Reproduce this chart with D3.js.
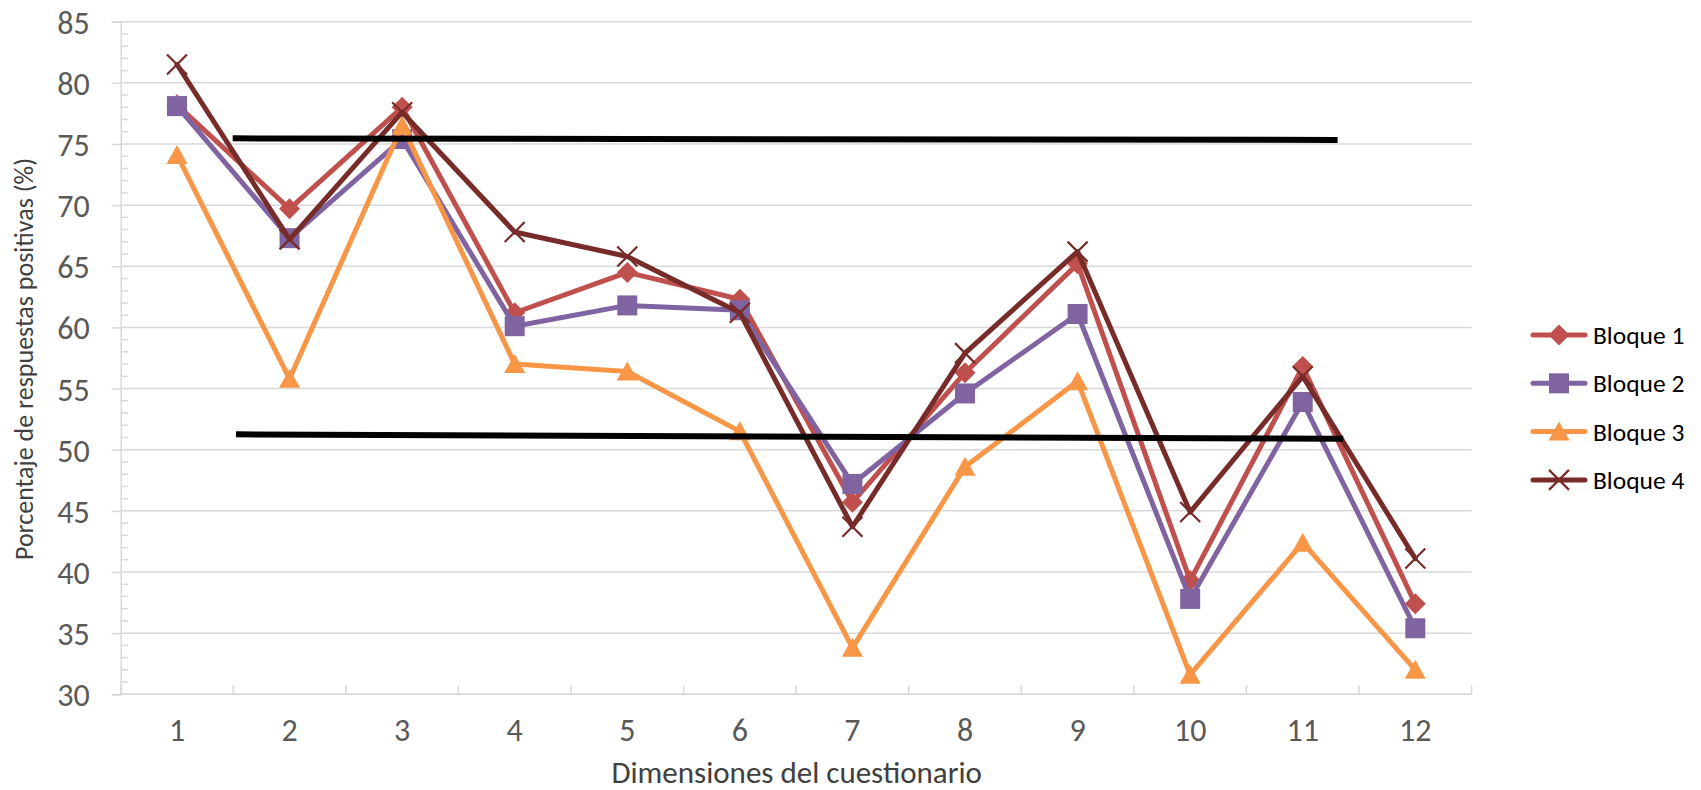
<!DOCTYPE html>
<html>
<head>
<meta charset="utf-8">
<script src="https://cdn.jsdelivr.net/npm/d3@7"></script>
<style>
  html, body { margin: 0; padding: 0; background: #fff; }
  svg { display: block; }
  text { font-family: Calibri, Carlito, Lato, "Open Sans", sans-serif; }
</style>
</head>
<body>
<svg id="chart" width="1701" height="790"></svg>
<script>
// Dimensiones del cuestionario (1–12)
const categories = [1, 2, 3, 4, 5, 6, 7, 8, 9, 10, 11, 12];

// Porcentaje de respuestas positivas por bloque
const bloque1 = [78.2, 69.7, 78.0, 61.2, 64.5, 62.3, 45.7, 56.3, 65.2, 39.3, 56.8, 37.4];
const bloque2 = [78.1, 67.3, 75.4, 60.1, 61.8, 61.4, 47.2, 54.6, 61.1, 37.8, 53.9, 35.4];
const bloque3 = [74.1, 55.8, 76.5, 57.0, 56.4, 51.5, 33.8, 48.6, 55.6, 31.6, 42.4, 32.0];
const bloque4 = [81.5, 67.2, 77.6, 67.8, 65.8, 61.2, 43.7, 57.9, 66.2, 44.9, 56.0, 41.1];

const seriesNames = ["Bloque 1", "Bloque 2", "Bloque 3", "Bloque 4"];
const yTicks = [30, 35, 40, 45, 50, 55, 60, 65, 70, 75, 80, 85];

// Reference lines: [dimension position, value] endpoints
const upperLine = [[1.495, 75.46], [11.31, 75.33]];
const lowerLine = [[1.524, 51.26], [11.36, 50.90]];

const colors = ["#C0504D", "#8064A2", "#F79646", "#772C2A"];
const markerTypes = ["diamond", "square", "triangle", "cross"];

const svg = d3.select("#chart");

const plotLeft = 120.7, plotRight = 1471.6, plotTop = 21.7, plotBottom = 694.3;
const x = d3.scaleLinear().domain([0.5, 12.5]).range([plotLeft, plotRight]);
const y = d3.scaleLinear().domain([30, 85]).range([plotBottom, plotTop]);

const gridColor = "#D9D9D9";

// Horizontal gridlines
svg.append("g")
  .selectAll("line")
  .data(yTicks)
  .join("line")
  .attr("x1", plotLeft).attr("x2", plotRight)
  .attr("y1", d => y(d)).attr("y2", d => y(d))
  .attr("stroke", gridColor).attr("stroke-width", 1.5);

// Y axis with major ticks outward and minor ticks inward
const yAxis = d3.axisLeft(y).tickValues(yTicks).tickSize(9).tickPadding(22)
  .tickFormat(d3.format("d"));
const gy = svg.append("g").attr("transform", `translate(${plotLeft},0)`).call(yAxis);
gy.select(".domain").attr("stroke", gridColor).attr("stroke-width", 1.5);
gy.selectAll(".tick line").attr("stroke", gridColor).attr("stroke-width", 1.5);
gy.selectAll(".tick text")
  .attr("fill", "#595959").attr("font-size", 32).attr("dy", "0.36em")
  .style("font-family", "Calibri, Carlito, Lato, sans-serif");

const minor = d3.range(31, 85).filter(v => v % 5 !== 0);
svg.append("g")
  .selectAll("line")
  .data(minor)
  .join("line")
  .attr("x1", plotLeft).attr("x2", plotLeft + 7.5)
  .attr("y1", d => y(d)).attr("y2", d => y(d))
  .attr("stroke", gridColor).attr("stroke-width", 1.5);

// X axis: category boundary ticks pointing up, labels centred in each band
svg.append("line")
  .attr("x1", plotLeft).attr("x2", plotRight)
  .attr("y1", plotBottom).attr("y2", plotBottom)
  .attr("stroke", gridColor).attr("stroke-width", 1.5);

const boundaries = d3.range(0, 13).map(i => i + 0.5);
svg.append("g")
  .selectAll("line")
  .data(boundaries)
  .join("line")
  .attr("x1", d => x(d)).attr("x2", d => x(d))
  .attr("y1", plotBottom).attr("y2", plotBottom - 9)
  .attr("stroke", gridColor).attr("stroke-width", 1.5);

svg.append("g")
  .selectAll("text")
  .data(categories)
  .join("text")
  .attr("x", d => x(d)).attr("y", 741)
  .attr("text-anchor", "middle")
  .attr("fill", "#595959").attr("font-size", 32)
  .text(d => d);

// Axis titles
svg.append("text")
  .attr("x", (plotLeft + plotRight) / 2 + 0.5).attr("y", 783)
  .attr("text-anchor", "middle")
  .attr("fill", "#404040").attr("font-size", 31)
  .text("Dimensiones del cuestionario");

svg.append("text")
  .attr("transform", "translate(33,359) rotate(-90)")
  .attr("text-anchor", "middle")
  .attr("fill", "#404040").attr("font-size", 26)
  .text("Porcentaje de respuestas positivas (%)");

// Marker drawing
function drawMarker(g, type, color) {
  if (type === "diamond") {
    g.append("path").attr("d", "M0,-10.5L10.5,0L0,10.5L-10.5,0Z").attr("fill", color);
  } else if (type === "square") {
    g.append("rect").attr("x", -10).attr("y", -10).attr("width", 20).attr("height", 20).attr("fill", color);
  } else if (type === "triangle") {
    g.append("path").attr("d", "M0,-10L10.5,9L-10.5,9Z").attr("fill", color);
  } else {
    g.append("path").attr("d", "M-10,-10L10,10M10,-10L-10,10")
      .attr("stroke", color).attr("stroke-width", 2.2).attr("fill", "none");
  }
}

const allSeries = [bloque1, bloque2, bloque3, bloque4];
const line = d3.line().x((d, i) => x(categories[i])).y(d => y(d));

allSeries.forEach((vals, s) => {
  const g = svg.append("g");
  g.append("path")
    .attr("d", line(vals))
    .attr("fill", "none")
    .attr("stroke", colors[s]).attr("stroke-width", 5)
    .attr("stroke-linejoin", "round").attr("stroke-linecap", "round");
  vals.forEach((v, i) => {
    const m = g.append("g").attr("transform", `translate(${x(categories[i])},${y(v)})`);
    drawMarker(m, markerTypes[s], colors[s]);
  });
});

// Reference lines
[upperLine, lowerLine].forEach(pts => {
  svg.append("path")
    .attr("d", d3.line().x(d => x(d[0])).y(d => y(d[1]))(pts))
    .attr("stroke", "#000").attr("stroke-width", 6).attr("fill", "none");
});

// Legend
const legend = svg.append("g");
seriesNames.forEach((name, s) => {
  const cy = 335 + s * 48.3;
  const row = legend.append("g").attr("transform", `translate(0,${cy})`);
  row.append("line")
    .attr("x1", 1533).attr("x2", 1585)
    .attr("stroke", colors[s]).attr("stroke-width", 5).attr("stroke-linecap", "round");
  const m = row.append("g").attr("transform", "translate(1559,0)");
  drawMarker(m, markerTypes[s], colors[s]);
  row.append("text")
    .attr("x", 1593).attr("y", 9)
    .attr("fill", "#000").attr("font-size", 25.5)
    .text(name);
});
</script>
</body>
</html>
